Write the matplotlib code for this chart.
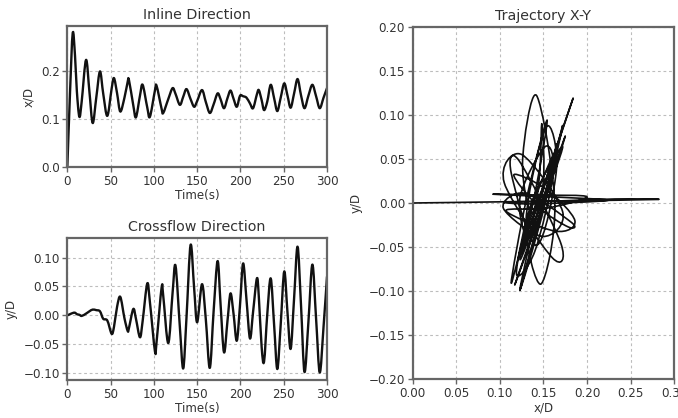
import matplotlib
matplotlib.use("Agg")
import matplotlib.pyplot as plt
from matplotlib.path import Path
from matplotlib.patches import PathPatch

# time samples (s), shared by both directions
time_s = [0, 3.0, 6.2, 8.9, 11.0, 13.9, 16.6, 21.6, 25.5, 29.3,
          33.5, 37.7, 41.5, 46.2, 51.2, 53.9, 57.5, 61.2, 66.0, 69.7,
          71.2, 76.2, 79.3, 83.9, 87.0, 92.3, 95.4, 101.2, 103.1, 108.9,
          110.8, 116.6, 121.6, 125.0, 130.0, 133.9, 137.7, 142.4, 146.5, 150.0,
          155.6, 160.0, 164.6, 169.0, 173.6, 177.0, 181.0, 185.0, 188.5, 192.0,
          195.8, 199.5, 203.1, 207.0, 211.0, 214.6, 219.0, 221.2, 224.5, 227.3,
          231.0, 235.0, 239.0, 242.6, 246.5, 250.6, 254.3, 258.0, 262.0, 266.0,
          270.0, 274.0, 278.5, 283.1, 287.4, 291.6, 296.0, 300.0]

# inline response x/D
inline_xd = [0.000, 0.150, 0.280, 0.232, 0.159, 0.105, 0.137, 0.224, 0.158, 0.092,
             0.146, 0.200, 0.153, 0.107, 0.164, 0.186, 0.154, 0.116, 0.145, 0.178,
             0.182, 0.129, 0.104, 0.149, 0.172, 0.125, 0.105, 0.160, 0.170, 0.122,
             0.113, 0.142, 0.165, 0.153, 0.130, 0.147, 0.163, 0.142, 0.126, 0.138,
             0.161, 0.136, 0.113, 0.131, 0.154, 0.142, 0.123, 0.144, 0.160, 0.143,
             0.126, 0.149, 0.148, 0.145, 0.133, 0.123, 0.152, 0.161, 0.140, 0.119,
             0.137, 0.172, 0.143, 0.117, 0.145, 0.175, 0.150, 0.124, 0.154, 0.184,
             0.150, 0.123, 0.149, 0.172, 0.148, 0.123, 0.145, 0.165]

# crossflow response y/D
cross_yd = [0.000, 0.002, 0.004, 0.0046, 0.002, 0.001, -0.001, 0.003, 0.007, 0.010,
            0.009, 0.007, -0.006, -0.009, -0.032, -0.020, 0.015, 0.032, -0.005, -0.027,
            -0.022, 0.011, -0.006, -0.038, -0.010, 0.055, 0.023, -0.062, -0.046, 0.048,
            0.034, -0.048, 0.039, 0.086, -0.020, -0.092, -0.003, 0.122, 0.047, -0.012,
            0.054, -0.007, -0.091, 0.007, 0.094, 0.020, -0.064, -0.010, 0.038, 0.003,
            -0.044, 0.018, 0.090, 0.027, -0.040, 0.006, 0.064, 0.033, -0.055, -0.080,
            0.002, 0.064, -0.019, -0.093, -0.016, 0.076, 0.006, -0.058, 0.030, 0.119,
            0.017, -0.098, -0.012, 0.088, -0.006, -0.099, -0.020, 0.067]

time_ticks = [0, 50, 100, 150, 200, 250, 300]
inline_ticks = [0.0, 0.1, 0.2]
cross_ticks = [-0.10, -0.05, 0.00, 0.05, 0.10]
traj_xticks = [0.00, 0.05, 0.10, 0.15, 0.20, 0.25, 0.30]
traj_yticks = [-0.20, -0.15, -0.10, -0.05, 0.00, 0.05, 0.10, 0.15, 0.20]

TXT = "#333333"
SPINE = "#666666"
LINE = "#111111"


def curve_through(xs, ys):
    # bezier path passing through every sample (catmull-rom handles)
    pts = list(zip(xs, ys))
    verts = [pts[0]]
    codes = [Path.MOVETO]
    for i in range(len(pts) - 1):
        p0 = pts[i - 1] if i > 0 else pts[i]
        p1 = pts[i]
        p2 = pts[i + 1]
        p3 = pts[i + 2] if i + 2 < len(pts) else p2
        c1 = (p1[0] + (p2[0] - p0[0]) / 6, p1[1] + (p2[1] - p0[1]) / 6)
        c2 = (p2[0] - (p3[0] - p1[0]) / 6, p2[1] - (p3[1] - p1[1]) / 6)
        verts += [c1, c2, p2]
        codes += [Path.CURVE4] * 3
    return Path(verts, codes)


def draw_curve(ax, xs, ys, lw):
    patch = PathPatch(curve_through(xs, ys), fill=False, edgecolor=LINE,
                      linewidth=lw, joinstyle="round", capstyle="round")
    ax.add_patch(patch)


def style_axes(ax):
    for sp in ax.spines.values():
        sp.set_color(SPINE)
        sp.set_linewidth(1.6)
    ax.tick_params(direction="out", length=3.5, width=1.0, color=SPINE,
                   labelsize=8.6, labelcolor=TXT, pad=2)
    ax.grid(True, color="#bdbdbd", linestyle=(0, (2.5, 2.5)), linewidth=0.8)
    ax.set_axisbelow(True)


fig = plt.figure(figsize=(6.78, 4.18), dpi=100)

# inline direction
ax1 = fig.add_axes([0.0993, 0.6005, 0.383, 0.3373])
draw_curve(ax1, time_s, inline_xd, 1.7)
ax1.set_xlim(0, 300)
ax1.set_ylim(0, 0.295)
ax1.set_xticks(time_ticks)
ax1.set_yticks(inline_ticks)
ax1.set_title("Inline Direction", fontsize=10.3, color=TXT, pad=5)
ax1.set_xlabel("Time(s)", fontsize=8.6, color=TXT, labelpad=1)
ax1.set_ylabel("x/D", fontsize=8.6, color=TXT, labelpad=4)
style_axes(ax1)

# crossflow direction
ax2 = fig.add_axes([0.0993, 0.0909, 0.383, 0.3397])
draw_curve(ax2, time_s, cross_yd, 1.7)
ax2.set_xlim(0, 300)
ax2.set_ylim(-0.112, 0.134)
ax2.set_xticks(time_ticks)
ax2.set_yticks(cross_ticks)
ax2.set_title("Crossflow Direction", fontsize=10.3, color=TXT, pad=5)
ax2.set_xlabel("Time(s)", fontsize=8.6, color=TXT, labelpad=1)
ax2.set_ylabel("y/D", fontsize=8.6, color=TXT, labelpad=4)
style_axes(ax2)

# trajectory
ax3 = fig.add_axes([0.6087, 0.0926, 0.3858, 0.8435])
draw_curve(ax3, inline_xd, cross_yd, 1.2)
ax3.set_xlim(0, 0.30)
ax3.set_ylim(-0.20, 0.20)
ax3.set_xticks(traj_xticks)
ax3.set_yticks(traj_yticks)
ax3.set_title("Trajectory X-Y", fontsize=10.3, color=TXT, pad=5)
ax3.set_xlabel("x/D", fontsize=8.6, color=TXT, labelpad=1)
ax3.set_ylabel("y/D", fontsize=8.6, color=TXT, labelpad=4)
style_axes(ax3)

fig.savefig("out.png", dpi=100)
